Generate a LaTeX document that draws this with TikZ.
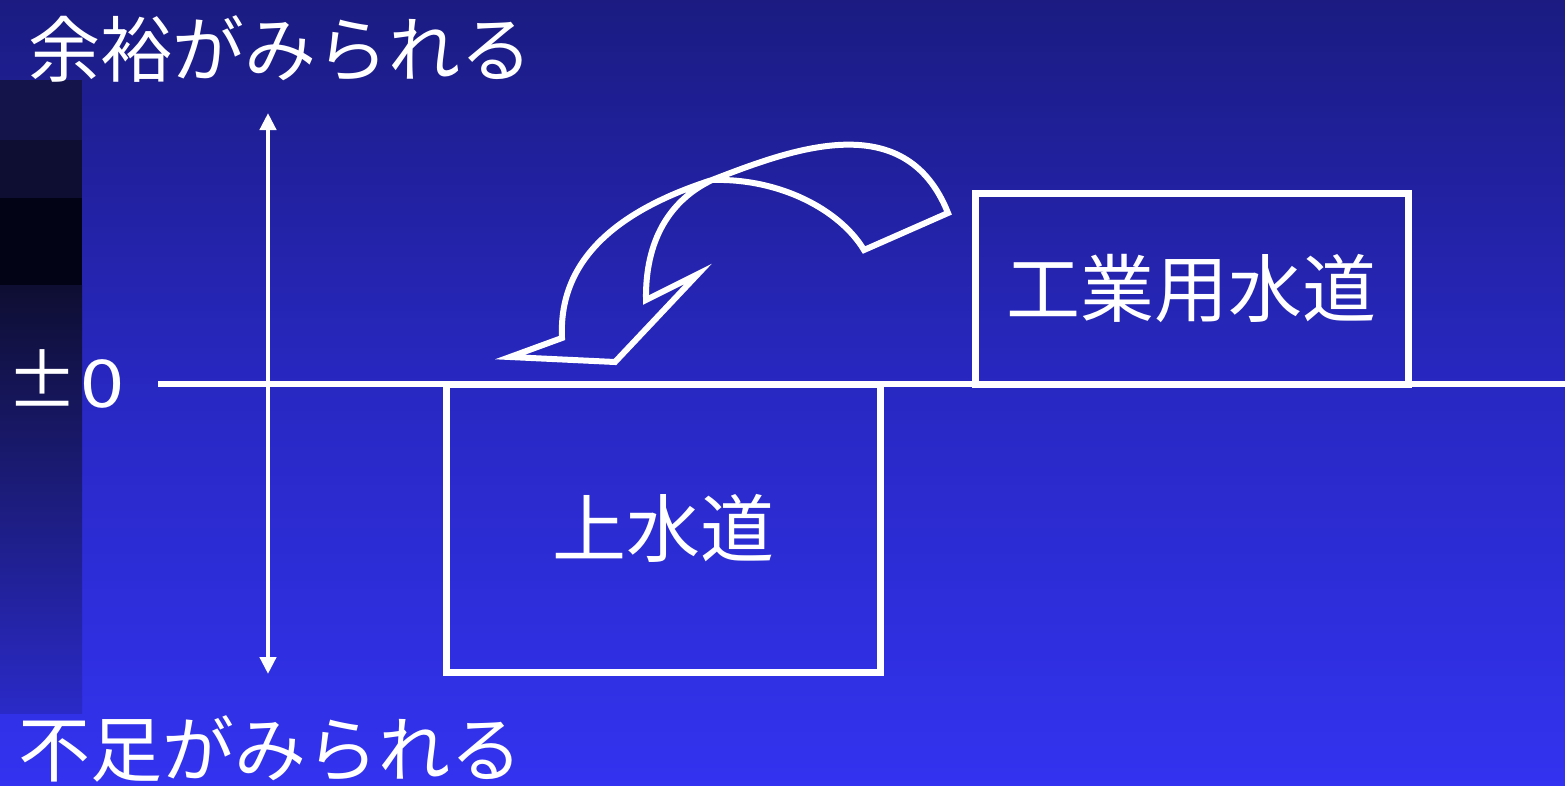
\documentclass[tikz,border=0pt]{standalone}
\usepackage{fontspec}
\usepackage{graphicx}
\setmainfont{Noto Sans CJK JP}
\usetikzlibrary{arrows.meta}
\definecolor{bgTop}{RGB}{27,27,130}
\definecolor{bgMid}{RGB}{40,40,195}
\definecolor{bgBot}{RGB}{51,51,240}
\definecolor{stripA}{RGB}{20,20,75}
\definecolor{stripB}{RGB}{14,14,50}
\definecolor{stripC}{RGB}{3,3,22}
\definecolor{stripD}{RGB}{42,42,200}
\tikzset{
  lbl/.style={text=white, font=\fontsize{72}{80}\selectfont, inner sep=0pt},
  boxlbl/.style={draw=white, line width=7pt, text=white, font=\fontsize{74}{80}\selectfont, inner sep=0pt},
  wline/.style={draw=white, line width=6pt},
  axisarrow/.style={draw=white, line width=4.5pt, {Triangle[width=16pt,length=17pt]}-{Triangle[width=16pt,length=17pt]}},
  curvearrow/.style={draw=white, line width=6pt, line join=miter, miter limit=10}
}
\begin{document}
\begin{tikzpicture}[x=1pt,y=-1pt]
\useasboundingbox (0,0) rectangle (1565,785);
% background
\shade[top color=bgTop, bottom color=bgBot, middle color=bgMid] (0,0) rectangle (1565,785);
% left strip
\fill[stripA] (0,80) rectangle (82,140);
\fill[stripB] (0,140) rectangle (82,198);
\fill[stripC] (0,198) rectangle (82,285);
\shade[top color=stripB, bottom color=stripD] (0,285) rectangle (82,713);
% labels
\node[lbl, anchor=base west] (lblTop) at (28,76) {余裕がみられる};
\node[lbl, anchor=base west] (lblBot) at (18,776) {不足がみられる};
\node[lbl, anchor=base west, font=\fontsize{66}{70}\selectfont] (lblZero) at (6,407) {{\fontsize{72}{80}\selectfont ±}\kern 2pt\scalebox{1.2}[1]{0}};
% zero line
\coordinate (zeroL) at (158,384);
\coordinate (zeroR) at (1565,384);
\draw[wline] (zeroL) -- (zeroR);
% vertical axis
\coordinate (axTop) at (268,113);
\coordinate (axBot) at (268,674);
\draw[axisarrow] (axBot) -- (axTop);
% boxes
\node[boxlbl, minimum width=434pt, minimum height=288pt] (josui) at (663,528) {上水道};
\node[boxlbl, minimum width=433pt, minimum height=191pt] (kogyo) at (1191.5,288.5) {工業用水道};
% curved arrow
\draw[curvearrow] (948,213) -- (864,250)
  .. controls (840,210) and (780,178) .. (712,180)
  .. controls (670,200) and (645,240) .. (646,300)
  -- (698,274) -- (615,362) -- (510,357) -- (562,338)
  .. controls (558,255) and (625,208) .. (712,180)
  .. controls (790,150) and (905,105) .. cycle;
\end{tikzpicture}
\end{document}
